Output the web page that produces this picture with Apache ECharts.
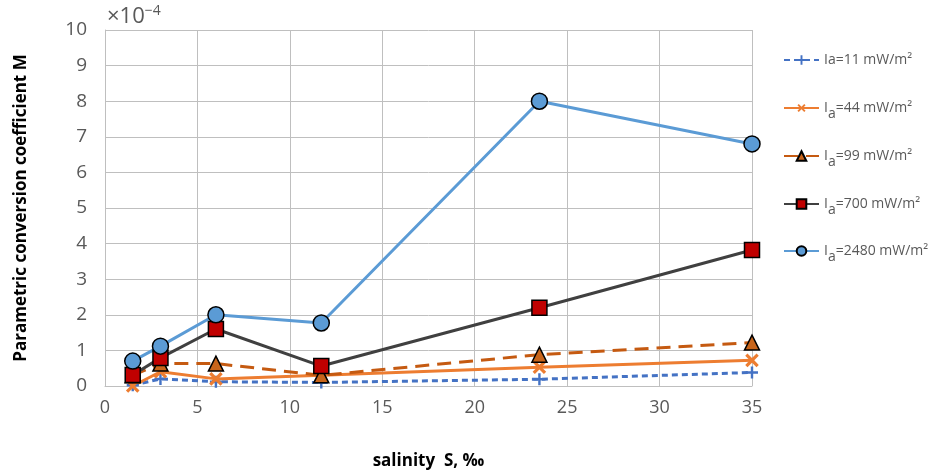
<!DOCTYPE html>
<html><head><meta charset="utf-8">
<script src="https://cdn.jsdelivr.net/npm/echarts@6/dist/echarts.min.js"></script>
<style>html,body{margin:0;padding:0;background:#fff}#c{width:930px;height:472px}</style>
</head><body><div id="c"></div>
<script>
const salinity = [1.5, 3, 6, 11.7, 23.5, 35];
const m11   = [0.02, 0.2, 0.12, 0.1, 0.19, 0.38];
const m44   = [0.0, 0.4, 0.2, 0.3, 0.53, 0.72];
const m99   = [0.3, 0.63, 0.63, 0.3, 0.88, 1.22];
const m700  = [0.31, 0.79, 1.6, 0.56, 2.2, 3.82];
const m2480 = [0.7, 1.12, 2.0, 1.77, 8.0, 6.8];
const legendNames = ['11','44','99','700','2480'];

const plusPath = 'path://M4,0H6V4H10V6H6V10H4V6H0V4H4Z';
function pts(arr){ return salinity.map((s,i)=>[s,arr[i]]); }
const chart = echarts.init(document.getElementById('c'));
const mk = (name, data, opt) => Object.assign({
  name: 'I' + name, type: 'line', data: pts(data), symbolSize: 14, z: 3
}, opt);
const legendTops = [48, 96, 144, 192, 239];
const legends = legendNames.map((v,i)=>({
  orient:'vertical', left:778, top:legendTops[i], itemWidth:35, itemHeight:12,
  formatter: function(n){ const v=n.slice(1); return v==='11' ? '{t|Ia=11 mW/m²}' : '{t|I}{s|a}{t|='+v+' mW/m²}'; },
  textStyle:{rich:{t:{fontSize:14,color:'#595959',fontFamily:'Open Sans'}, s:{fontSize:14,color:'#595959',fontFamily:'Open Sans',padding:[12,0,0,0]}}},
  data:['I'+v]
}));
chart.setOption({
  animation: false,
  textStyle: {fontFamily: 'Open Sans'},
  grid: {left: 105, right: 178, top: 30, bottom: 86, outerBoundsMode: 'none', containLabel: false},
  graphic: [{type:'text', left: 107, top: 4, style:{
    rich:{a:{fontSize:22,fill:'#595959',fontFamily:'Open Sans'},b:{fontSize:14,fill:'#595959',verticalAlign:'top',padding:[0,0,12,0],fontFamily:'Open Sans'}},
    text:'{a|×10}{b|−4}'}}],
  xAxis: {type:'value', min:0, max:35, interval:5,
    name:'salinity  S, ‰', nameLocation:'middle', nameGap:67,
    nameTextStyle:{fontSize:17, fontWeight:'bold', color:'#000', fontFamily:'Open Sans'},
    axisLine:{show:true, lineStyle:{color:'#bfbfbf'}}, axisTick:{show:false},
    axisLabel:{fontSize:18, color:'#595959', margin:13},
    splitLine:{show:true, lineStyle:{color:'#bfbfbf', width:1}}},
  yAxis: {type:'value', min:0, max:10, interval:1,
    name:'Parametric conversion coefficient M', nameLocation:'middle', nameGap:75,
    nameTextStyle:{fontSize:17, fontWeight:'bold', color:'#000', fontFamily:'Open Sans'},
    axisLine:{show:true, lineStyle:{color:'#bfbfbf'}}, axisTick:{show:false},
    axisLabel:{fontSize:19, color:'#595959', margin:18},
    splitLine:{show:true, lineStyle:{color:'#bfbfbf', width:1}}},
  legend: legends,
  series: [
    mk('11', m11, {symbol: plusPath, symbolSize: 12, color:'#4472c4',
      lineStyle:{color:'#4472c4', width:3, type:[6,4]}, itemStyle:{color:'#4472c4'}}),
    mk('44', m44, {symbol: plusPath, symbolSize: 16, symbolRotate:45, color:'#ed7d31',
      lineStyle:{color:'#ed7d31', width:3}, itemStyle:{color:'#ed7d31'}}),
    mk('99', m99, {symbol:'triangle', symbolSize: 15, color:'#c55a11',
      lineStyle:{color:'#c55a11', width:3, type:[14,8]}, itemStyle:{color:'#c8651b', borderColor:'#000', borderWidth:1.5}}),
    mk('700', m700, {symbol:'rect', symbolSize: 15, color:'#404040',
      lineStyle:{color:'#404040', width:3}, itemStyle:{color:'#c00000', borderColor:'#000', borderWidth:1.5}}),
    mk('2480', m2480, {symbol:'circle', symbolSize: 16, color:'#5b9bd5',
      lineStyle:{color:'#5b9bd5', width:3}, itemStyle:{color:'#5b9bd5', borderColor:'#000', borderWidth:1.5}})
  ]
});
</script></body></html>
